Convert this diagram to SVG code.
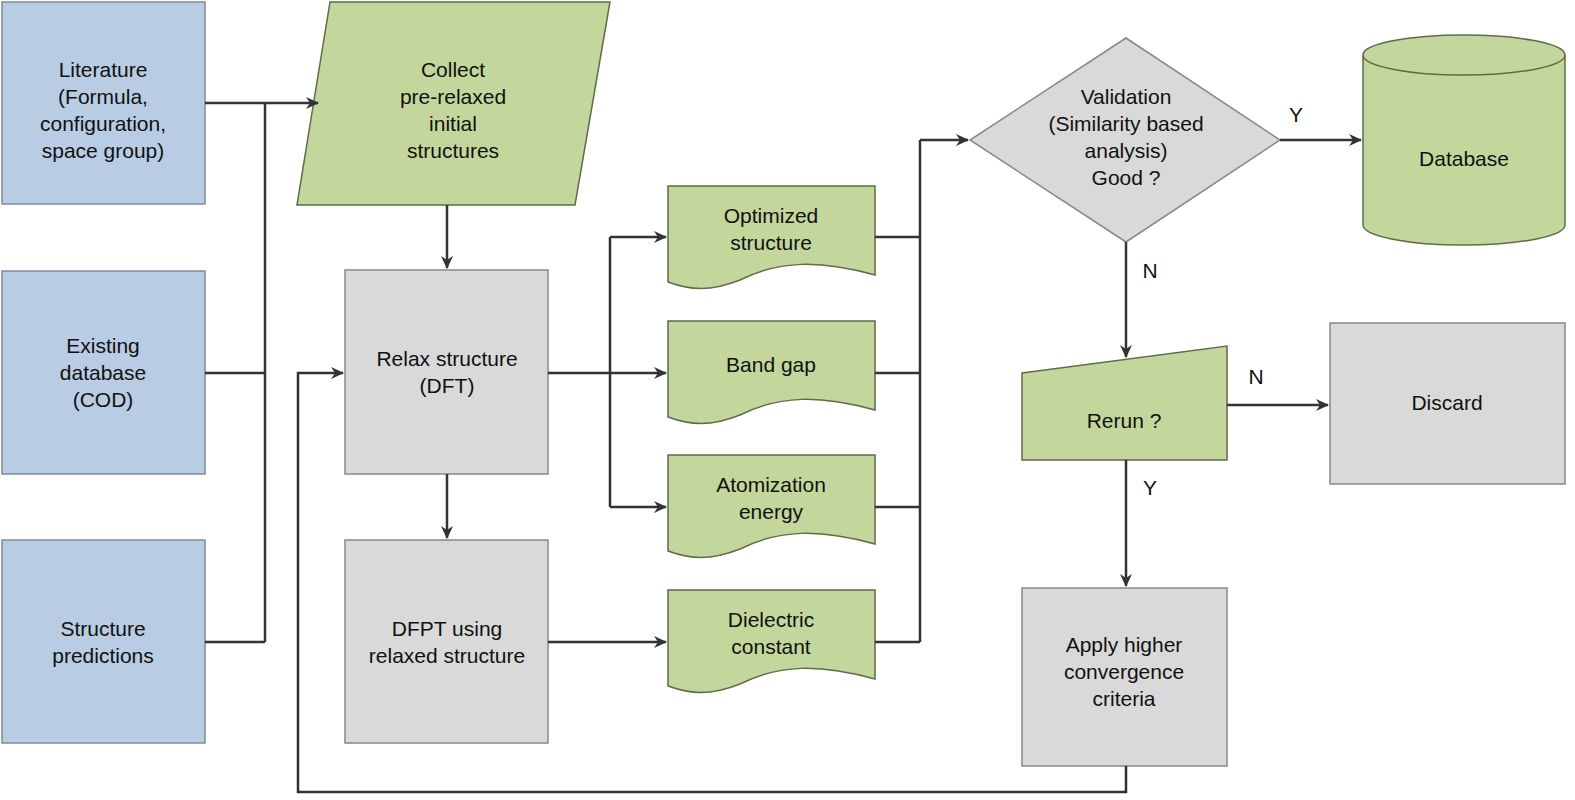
<svg xmlns="http://www.w3.org/2000/svg" width="1575" height="800" viewBox="0 0 1575 800">
<style>
.blue{fill:#b8cce4;stroke:#7f8c99;stroke-width:1.5}
.green{fill:#c3d69b;stroke:#5f6b4a;stroke-width:1.5}
.gray{fill:#d9d9d9;stroke:#888;stroke-width:1.5}
text{font-family:"Liberation Sans",Arial,sans-serif;font-size:21px;fill:#111;text-anchor:middle}
.c{fill:none;stroke:#333;stroke-width:2.5}
</style>
<defs>
<marker id="a" markerWidth="14" markerHeight="12" refX="12" refY="6" orient="auto" markerUnits="userSpaceOnUse">
<path d="M0,0 L13,6 L0,12 L4,6 Z" fill="#333"/>
</marker>
</defs>
<g id="lit"><rect class="blue" x="2" y="2" width="203" height="202"/><text x="103" y="77">Literature</text><text x="103" y="104">(Formula,</text><text x="103" y="131">configuration,</text><text x="103" y="158">space group)</text></g>
<g id="cod"><rect class="blue" x="2" y="271" width="203" height="203"/><text x="103" y="353">Existing</text><text x="103" y="380">database</text><text x="103" y="407">(COD)</text></g>
<g id="pred"><rect class="blue" x="2" y="540" width="203" height="203"/><text x="103" y="636">Structure</text><text x="103" y="663">predictions</text></g>
<g id="collect"><polygon class="green" points="330,2 610,2 575,205 297,205"/><text x="453" y="77">Collect</text><text x="453" y="104">pre-relaxed</text><text x="453" y="131">initial</text><text x="453" y="158">structures</text></g>
<g id="relax"><rect class="gray" x="345" y="270" width="203" height="204"/><text x="447" y="366">Relax structure</text><text x="447" y="393">(DFT)</text></g>
<g id="dfpt"><rect class="gray" x="345" y="540" width="203" height="203"/><text x="447" y="636">DFPT using</text><text x="447" y="663">relaxed structure</text></g>
<g id="opt"><path class="green" d="M668,186 H875 V275 C820,260 780,260 740,280 C710,292 690,290 668,282 Z"/><text x="771" y="223">Optimized</text><text x="771" y="250">structure</text></g>
<g id="band"><path class="green" d="M668,321 H875 V410 C820,395 780,395 740,415 C710,427 690,425 668,417 Z"/><text x="771" y="372">Band gap</text></g>
<g id="atom"><path class="green" d="M668,455 H875 V544 C820,529 780,529 740,549 C710,561 690,559 668,551 Z"/><text x="771" y="492">Atomization</text><text x="771" y="519">energy</text></g>
<g id="diel"><path class="green" d="M668,590 H875 V679 C820,664 780,664 740,684 C710,696 690,694 668,686 Z"/><text x="771" y="627">Dielectric</text><text x="771" y="654">constant</text></g>
<g id="valid"><polygon class="gray" points="1126,38 1280,140 1126,242 970,140"/><text x="1126" y="104">Validation</text><text x="1126" y="131">(Similarity based</text><text x="1126" y="158">analysis)</text><text x="1126" y="185">Good ?</text></g>
<g id="db"><path class="green" d="M1363,55 V225 A101,20 0 0 0 1565,225 V55"/><ellipse class="green" cx="1464" cy="55" rx="101" ry="20"/><text x="1464" y="166">Database</text></g>
<g id="rerun"><polygon class="green" points="1022,373 1227,346 1227,460 1022,460"/><text x="1124" y="428">Rerun ?</text></g>
<g id="discard"><rect class="gray" x="1330" y="323" width="235" height="161"/><text x="1447" y="410">Discard</text></g>
<g id="apply"><rect class="gray" x="1022" y="588" width="205" height="178"/><text x="1124" y="652">Apply higher</text><text x="1124" y="679">convergence</text><text x="1124" y="706">criteria</text></g>
<g id="connectors">
<path class="c" d="M205,103 H265 M205,373 H265 M205,642 H265 M265,642 V103"/>
<path class="c" d="M265,103 H318" marker-end="url(#a)"/>
<path class="c" d="M447,205 V268" marker-end="url(#a)"/>
<path class="c" d="M548,373 H610 M610,237 V507"/>
<path class="c" d="M610,237 H666" marker-end="url(#a)"/>
<path class="c" d="M610,373 H666" marker-end="url(#a)"/>
<path class="c" d="M610,507 H666" marker-end="url(#a)"/>
<path class="c" d="M447,474 V538" marker-end="url(#a)"/>
<path class="c" d="M548,642 H666" marker-end="url(#a)"/>
<path class="c" d="M875,237 H920 M875,373 H920 M875,507 H920 M875,642 H920 M920,642 V140"/>
<path class="c" d="M920,140 H968" marker-end="url(#a)"/>
<path class="c" d="M1280,140 H1361" marker-end="url(#a)"/>
<path class="c" d="M1126,242 V357" marker-end="url(#a)"/>
<path class="c" d="M1227,405 H1328" marker-end="url(#a)"/>
<path class="c" d="M1126,460 V586" marker-end="url(#a)"/>
<path class="c" d="M1126,766 V792 H298 V373 H343" marker-end="url(#a)"/>
<text x="1296" y="122">Y</text><text x="1150" y="278">N</text><text x="1256" y="384">N</text><text x="1150" y="495">Y</text>
</g>
</svg>
